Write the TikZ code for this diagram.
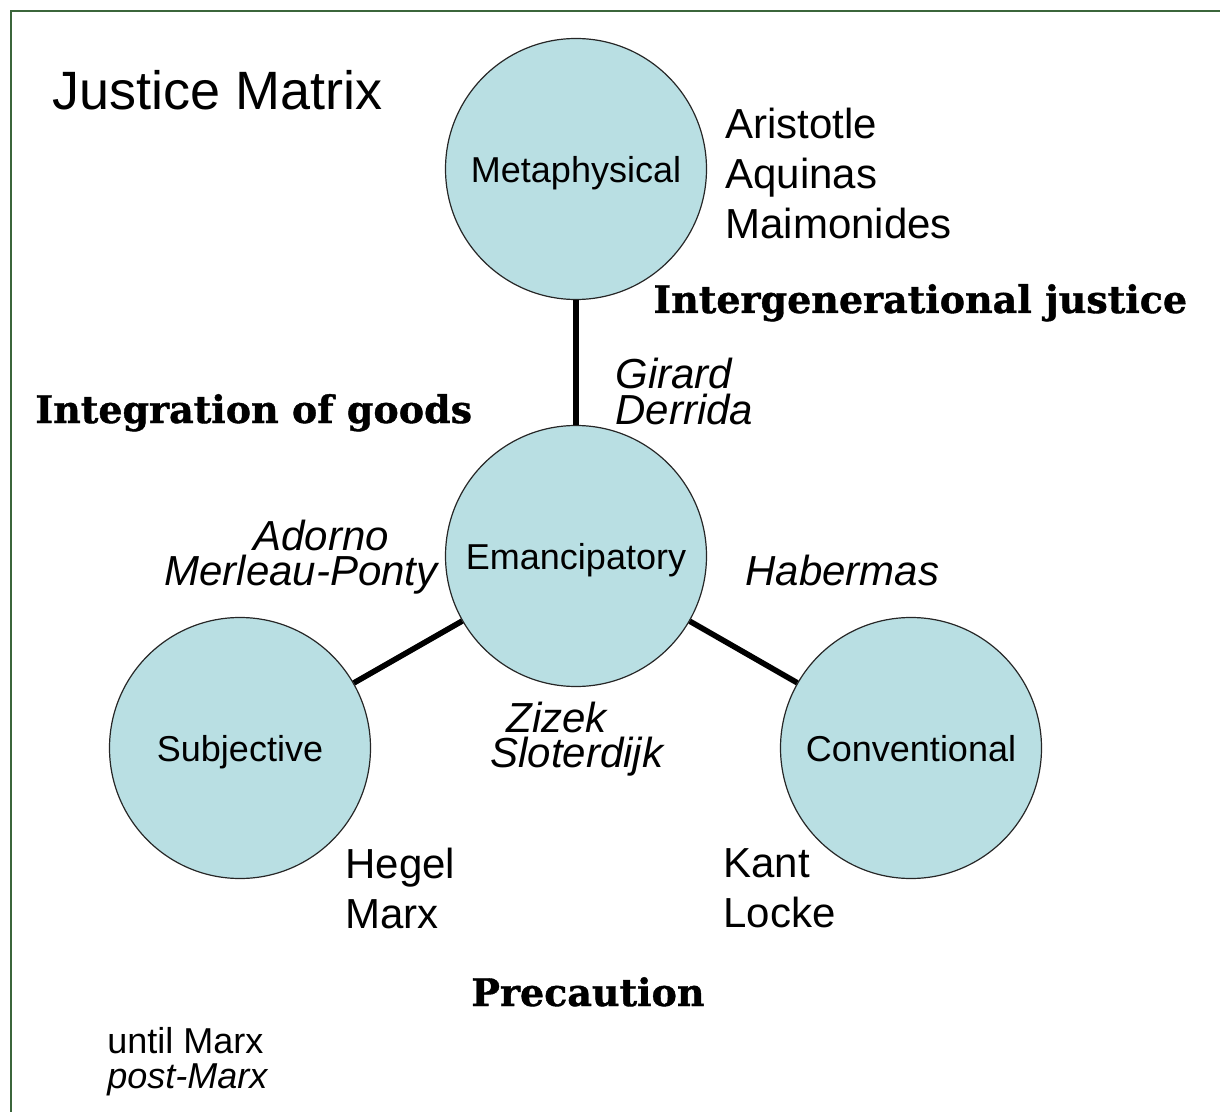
\documentclass[tikz,border=0pt]{standalone}
\usepackage{fontspec}
\setmainfont{Liberation Sans}
\newfontfamily\themeserif{DejaVu Serif}[BoldFeatures={FakeBold=1}]
\usetikzlibrary{positioning}
\definecolor{realmfill}{HTML}{B9DFE3}
\definecolor{framegreen}{HTML}{3B663B}

\begin{document}
\begin{tikzpicture}[x=0.5pt, y=-0.5pt,
      realm/.style={circle, draw=black!85, line width=0.6pt, fill=realmfill,
        minimum size=130.5pt, inner sep=0pt, text depth=0pt,
        font=\fontsize{18}{21}\selectfont},
      names/.style={align=left, inner sep=0pt, anchor=north west,
        font=\fontsize{21}{25}\selectfont},
      thinker/.style={inner sep=0pt, anchor=base west,
        font=\fontsize{21}{18}\selectfont\itshape},
      theme/.style={inner sep=0pt, anchor=base west,
        font=\themeserif\bfseries\fontsize{19}{22}\selectfont},
      link/.style={line width=2.8pt}]
    \useasboundingbox (0,0) rectangle (1220,1112);
    \draw[framegreen, line width=1.1pt] (11,11) rectangle (1260,1140);
    \node[inner sep=0pt, anchor=base west, font=\fontsize{27}{30}\selectfont]
      (title) at (52,110) {Justice Matrix};
    % the four realms
    \node[realm] (meta) at (576,169) {Metaphysical};
    \node[realm] (eman) at (576,556) {Emancipatory};
    \node[realm] (subj) at (240,748) {Subjective};
    \node[realm] (conv) at (911,748) {Conventional};
    \foreach \a/\b in {meta/eman, eman/subj, eman/conv} {
      \draw[link] (\a) -- (\b);
    }
    % upright: until Marx
    \node[names] (metanames) at (725,108) {Aristotle\\Aquinas\\Maimonides};
    \node[names] (subjnames) at (345,848) {Hegel\\Marx};
    \node[names] (convnames) at (723,848) {Kant\\Locke};
    % italic: post-Marx
    \node[thinker] (girard) at (615,388) {Girard};
    \node[thinker] (derrida) at (615,424) {Derrida};
    \node[thinker] (adorno) at (253,550) {Adorno};
    \node[thinker] (merleau) at (164,585) {Merleau-Ponty};
    \node[thinker] (habermas) at (745,585) {Habermas};
    \node[thinker] (zizek) at (506,732) {Zizek};
    \node[thinker] (sloterdijk) at (490,767) {Sloterdijk};
    % themes
    \node[theme] (intergen) at (653,313) {Intergenerational justice};
    \node[theme] (goods) at (35,423) {Integration of goods};
    \node[theme] (precaution) at (471,1006) {Precaution};
    % legend
    \node[names, font=\fontsize{18}{17.5}\selectfont] (legend) at (107,1027)
      {until Marx\\\textit{post-Marx}};
  \end{tikzpicture}
\end{document}
